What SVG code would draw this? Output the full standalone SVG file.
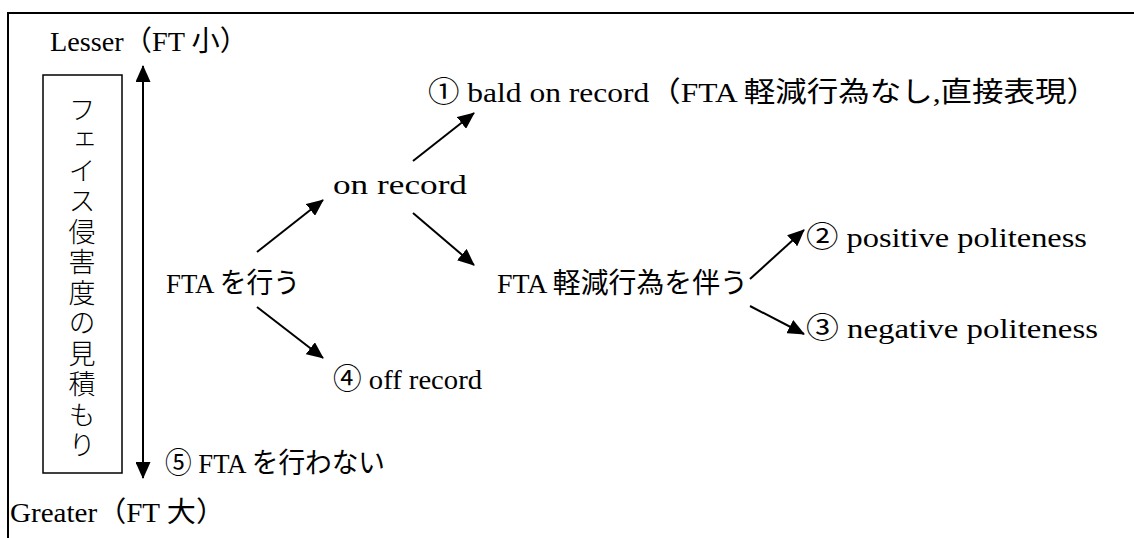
<svg xmlns="http://www.w3.org/2000/svg" width="1134" height="538" viewBox="0 0 1134 538">
<style>
text{font-family:"Liberation Serif","Noto Sans CJK JP",serif;font-size:28px;fill:#000}
.v{font-family:"Noto Sans CJK JP",sans-serif;font-size:27px;font-weight:300}
.c{stroke:#000;stroke-width:2;fill:none}
</style>
<defs>
<marker id="ah" markerWidth="17" markerHeight="15" refX="16" refY="7.5" orient="auto" markerUnits="userSpaceOnUse">
<path d="M0,0 L17,7.5 L0,15 Z" fill="#000"/>
</marker>
</defs>
<rect width="1134" height="538" fill="#fff"/>
<path d="M8,538 V13 H1134" stroke="#000" stroke-width="2" fill="none"/>
<g id="lesser"><text x="50" y="51" textLength="198" lengthAdjust="spacingAndGlyphs">Lesser（FT 小）</text></g>
<g id="greater"><text x="10" y="522" textLength="215" lengthAdjust="spacingAndGlyphs">Greater（FT 大）</text></g>
<g id="box">
<rect x="43" y="75" width="79" height="398" fill="none" stroke="#000" stroke-width="1.5"/>
<text class="v" x="82" y="96" style="writing-mode:vertical-rl;letter-spacing:3.5px">フェイス侵害度の見積もり</text>
</g>
<g id="n-fta"><text x="166" y="293" textLength="134" lengthAdjust="spacingAndGlyphs">FTA を行う</text></g>
<g id="n-on"><text x="333" y="194" textLength="134" lengthAdjust="spacingAndGlyphs">on record</text></g>
<g id="n-bald"><text x="428" y="102" textLength="670" lengthAdjust="spacingAndGlyphs">① bald on record（FTA 軽減行為なし,直接表現）</text></g>
<g id="n-mit"><text x="497" y="293" textLength="251" lengthAdjust="spacingAndGlyphs">FTA 軽減行為を伴う</text></g>
<g id="n-pos"><text x="806" y="247" textLength="281" lengthAdjust="spacingAndGlyphs">② positive politeness</text></g>
<g id="n-neg"><text x="806" y="338" textLength="292" lengthAdjust="spacingAndGlyphs">③ negative politeness</text></g>
<g id="n-off"><text x="333" y="389" textLength="149" lengthAdjust="spacingAndGlyphs">④ off record</text></g>
<g id="n-no"><text x="165" y="473" textLength="220" lengthAdjust="spacingAndGlyphs">⑤ FTA を行わない</text></g>
<g id="connectors" class="c">
<line x1="143" y1="473" x2="143" y2="66" marker-end="url(#ah)"/>
<line x1="143" y1="80" x2="143" y2="478" marker-end="url(#ah)"/>
<line x1="257" y1="252" x2="323" y2="200" marker-end="url(#ah)"/>
<line x1="257" y1="307" x2="323" y2="358" marker-end="url(#ah)"/>
<line x1="413" y1="213" x2="474" y2="265" marker-end="url(#ah)"/>
<line x1="413" y1="161" x2="474" y2="113" marker-end="url(#ah)"/>
<line x1="750" y1="279" x2="804" y2="230" marker-end="url(#ah)"/>
<line x1="750" y1="306" x2="804" y2="334" marker-end="url(#ah)"/>
</g>
</svg>
